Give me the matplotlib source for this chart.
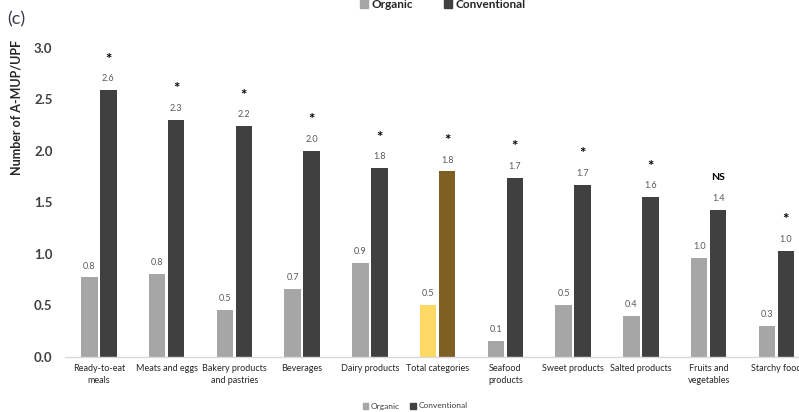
import matplotlib
matplotlib.use("Agg")
import matplotlib.pyplot as plt
from matplotlib.patches import Patch
import numpy as np

plt.rcParams['font.family'] = ['Lato', 'DejaVu Sans']

categories = ["Ready-to-eat\nmeals", "Meats and eggs", "Bakery products\nand pastries",
              "Beverages", "Dairy products", "Total categories", "Seafood\nproducts",
              "Sweet products", "Salted products", "Fruits and\nvegetables", "Starchy food"]
organic = [0.77, 0.80, 0.45, 0.66, 0.91, 0.50, 0.15, 0.50, 0.40, 0.96, 0.30]
conventional = [2.59, 2.30, 2.24, 2.00, 1.83, 1.80, 1.74, 1.67, 1.55, 1.43, 1.03]
organic_labels = ["0.8", "0.8", "0.5", "0.7", "0.9", "0.5", "0.1", "0.5", "0.4", "1.0", "0.3"]
conv_labels = ["2.6", "2.3", "2.2", "2.0", "1.8", "1.8", "1.7", "1.7", "1.6", "1.4", "1.0"]
significance = ["*", "*", "*", "*", "*", "*", "*", "*", "*", "NS", "*"]
yticks = [0.0, 0.5, 1.0, 1.5, 2.0, 2.5, 3.0]

W, H = 799, 412
fig = plt.figure(figsize=(W / 100, H / 100), dpi=100)
ax_left, ax_right = 65, 799
ax_bottom, ax_top = 356.7, 48
ax = fig.add_axes([ax_left / W, 1 - ax_bottom / H, (ax_right - ax_left) / W, (ax_bottom - ax_top) / H])

x = np.arange(len(categories))
bw = 0.245
off = 0.14
org_colors = ["#A6A6A6"] * len(categories)
con_colors = ["#404040"] * len(categories)
org_colors[5] = "#FFD966"
con_colors[5] = "#7F5F24"

ax.bar(x - off, organic, bw, color=org_colors, zorder=2)
ax.bar(x + off, conventional, bw, color=con_colors, zorder=2)

for i in range(len(categories)):
    ax.annotate(organic_labels[i], (x[i] - off, organic[i]), xytext=(0, 5), textcoords="offset points",
                ha="center", va="bottom", fontsize=6.5, color="#595959")
    ax.annotate(conv_labels[i], (x[i] + off, conventional[i]), xytext=(0, 5), textcoords="offset points",
                ha="center", va="bottom", fontsize=6.5, color="#595959")
    if significance[i] == "*":
        ax.annotate("*", (x[i] + off, conventional[i]), xytext=(0, 17), textcoords="offset points",
                    ha="center", va="bottom", fontsize=11, fontweight="bold", color="black")
    else:
        ax.annotate(significance[i], (x[i] + off, conventional[i]), xytext=(0, 20), textcoords="offset points",
                    ha="center", va="bottom", fontsize=7.5, fontweight="bold", color="black")

ax.set_xlim(-0.5, -0.5 + (ax_right - ax_left) / 67.75)
ax.set_ylim(0, 3.0)
ax.set_yticks(yticks)
ax.set_yticklabels([f"{v:.1f}" for v in yticks], fontsize=9.5, fontweight="bold", color="#404040")
ax.set_xticks(x)
ax.set_xticklabels(categories, fontsize=6.5, color="#262626", linespacing=1.5)
ax.tick_params(axis="both", length=0)
ax.tick_params(axis="y", pad=9)
ax.tick_params(axis="x", pad=5)
for s in ["top", "right", "left"]:
    ax.spines[s].set_visible(False)
ax.spines["bottom"].set_color("#D9D9D9")
ax.spines["bottom"].set_linewidth(1.0)

fig.text(17 / W, 1 - 107 / H, "Number of A-MUP/UPF", rotation=90, ha="center", va="center",
         fontsize=9, fontweight="bold", color="#262626")
fig.text(7 / W, 1 - 19 / H, "(c)", ha="left", va="center", fontsize=13, color="#3a3a4a")

handles = [Patch(color="#A6A6A6", label="Organic"), Patch(color="#404040", label="Conventional")]
fig.legend(handles=handles, loc="center", bbox_to_anchor=(443 / W, 1 - 4 / H), ncol=2, frameon=False,
           prop={"size": 8.5, "weight": "bold"}, handlelength=0.7, handleheight=0.7, handletextpad=0.3,
           columnspacing=2.6, labelcolor="#262626")
fig.legend(handles=handles, loc="center", bbox_to_anchor=(415 / W, 1 - 406 / H), ncol=2, frameon=False,
           prop={"size": 6}, handlelength=0.7, handleheight=0.7, handletextpad=0.3,
           columnspacing=1.2, labelcolor="#404040")

fig.savefig("out.png", dpi=100)
